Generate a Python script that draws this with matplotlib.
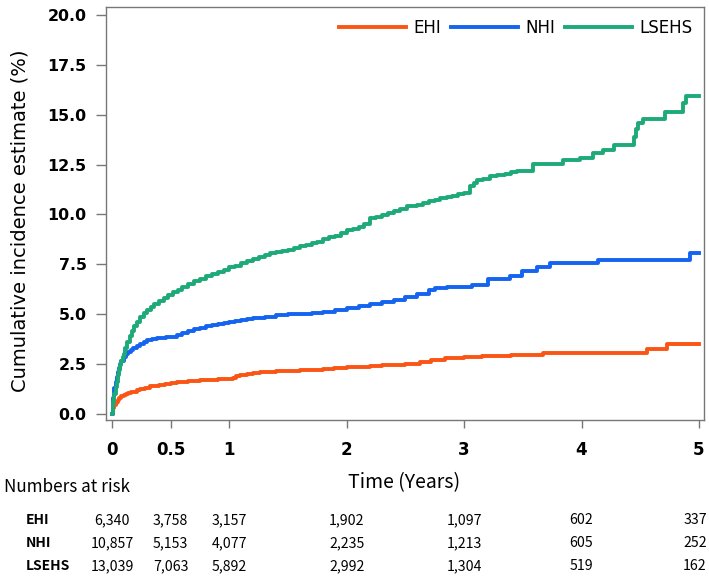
#!/usr/bin/env python3
"""
Cumulative incidence curves with numbers-at-risk table
"""
import matplotlib
matplotlib.use("Agg")
import matplotlib.pyplot as plt
import matplotlib.transforms as mtransforms

# Curve data (years, cumulative incidence %)
ehi_t = [0, 0.005, 0.01, 0.02, 0.03, 0.04, 0.05, 0.06, 0.08, 0.1, 0.12,
         0.14, 0.16, 0.18, 0.21, 0.24, 0.28, 0.32, 0.36, 0.4, 0.45, 0.5,
         0.55, 0.6, 0.65, 0.7, 0.75, 0.8, 0.9, 1.0, 1.03, 1.06, 1.09, 1.15,
         1.2, 1.26, 1.32, 1.4, 1.5, 1.6, 1.7, 1.8, 1.89, 2.0, 2.1, 2.2, 2.3,
         2.4, 2.5, 2.62, 2.72, 2.84, 3.0, 3.15, 3.4, 3.67, 4.56, 4.73, 5.0]
ehi_v = [0, 0.15, 0.3, 0.45, 0.55, 0.62, 0.7, 0.78, 0.88, 0.95, 1.0,
         1.05, 1.1, 1.12, 1.18, 1.25, 1.32, 1.38, 1.42, 1.47, 1.52, 1.56,
         1.6, 1.62, 1.65, 1.67, 1.7, 1.72, 1.74, 1.76, 1.82, 1.9, 1.97, 2.02,
         2.05, 2.1, 2.12, 2.15, 2.18, 2.2, 2.23, 2.26, 2.29, 2.35, 2.38, 2.4,
         2.45, 2.48, 2.52, 2.62, 2.7, 2.79, 2.84, 2.91, 2.98, 3.04, 3.24,
         3.5, 3.5]

nhi_t = [0, 0.005, 0.01, 0.015, 0.02, 0.03, 0.04, 0.05, 0.06, 0.07, 0.08,
         0.1, 0.12, 0.14, 0.16, 0.18, 0.21, 0.24, 0.27, 0.3, 0.34, 0.38,
         0.42, 0.46, 0.5, 0.55, 0.6, 0.65, 0.7, 0.75, 0.8, 0.85, 0.9, 0.95,
         1.0, 1.05, 1.1, 1.15, 1.2, 1.3, 1.4, 1.5, 1.6, 1.7, 1.8, 1.9, 2.0,
         2.1, 2.2, 2.3, 2.4, 2.5, 2.6, 2.7, 2.75, 2.85, 3.07, 3.2, 3.39,
         3.49, 3.62, 3.73, 4.14, 4.92, 5.0]
nhi_v = [0, 0.4, 0.8, 1.1, 1.3, 1.6, 1.85, 2.1, 2.3, 2.5, 2.65,
         2.85, 3.0, 3.1, 3.2, 3.3, 3.4, 3.5, 3.6, 3.7, 3.75, 3.8,
         3.82, 3.85, 3.87, 3.95, 4.05, 4.15, 4.25, 4.33, 4.4, 4.45, 4.5,
         4.55, 4.6, 4.65, 4.7, 4.75, 4.8, 4.88, 4.95, 5.0, 5.03, 5.07, 5.12,
         5.2, 5.3, 5.42, 5.5, 5.6, 5.7, 5.85, 6.0, 6.2, 6.3, 6.35, 6.47,
         6.75, 6.92, 7.17, 7.38, 7.55, 7.72, 8.05, 8.05]

lsehs_t = [0, 0.005, 0.01, 0.015, 0.02, 0.03, 0.04, 0.05, 0.06, 0.07, 0.08,
           0.09, 0.1, 0.115, 0.13, 0.15, 0.17, 0.19, 0.21, 0.24, 0.27, 0.3,
           0.33, 0.36, 0.4, 0.44, 0.48, 0.52, 0.56, 0.6, 0.65, 0.7, 0.75,
           0.8, 0.85, 0.9, 0.95, 1.0, 1.05, 1.1, 1.15, 1.2, 1.25, 1.3, 1.35,
           1.4, 1.45, 1.5, 1.55, 1.6, 1.65, 1.7, 1.75, 1.8, 1.85, 1.9, 1.95,
           2.0, 2.05, 2.1, 2.15, 2.2, 2.25, 2.3, 2.35, 2.4, 2.45, 2.51, 2.6,
           2.65, 2.7, 2.75, 2.79, 2.85, 2.9, 2.95, 3.0, 3.05, 3.08, 3.11,
           3.16, 3.22, 3.28, 3.35, 3.4, 3.45, 3.59, 3.84, 3.99, 4.1, 4.18,
           4.28, 4.45, 4.46, 4.48, 4.52, 4.71, 4.86, 4.89, 5.0]
lsehs_v = [0, 0.3, 0.6, 0.8, 1.0, 1.35, 1.6, 1.95, 2.2, 2.45, 2.65,
           2.85, 3.0, 3.3, 3.6, 3.9, 4.15, 4.4, 4.6, 4.85, 5.05, 5.2,
           5.35, 5.5, 5.65, 5.8, 5.95, 6.1, 6.2, 6.35, 6.5, 6.65, 6.78,
           6.9, 7.0, 7.1, 7.22, 7.35, 7.42, 7.55, 7.65, 7.75, 7.85, 7.95,
           8.05, 8.1, 8.15, 8.22, 8.3, 8.4, 8.48, 8.55, 8.62, 8.75, 8.85,
           8.92, 9.05, 9.2, 9.25, 9.35, 9.5, 9.8, 9.85, 9.95, 10.1, 10.2,
           10.3, 10.43, 10.5, 10.6, 10.7, 10.75, 10.83, 10.9, 10.95, 11.05,
           11.1, 11.45, 11.6, 11.73, 11.8, 11.93, 12.0, 12.05, 12.12, 12.2,
           12.52, 12.72, 12.85, 13.07, 13.23, 13.47, 13.9, 14.3, 14.57,
           14.77, 15.14, 15.57, 15.95, 15.95]

# Numbers at risk table
risk_times = [0, 0.5, 1, 2, 3, 4, 5]
risk_groups = ["EHI", "NHI", "LSEHS"]
risk_ehi = ["6,340", "3,758", "3,157", "1,902", "1,097", "602", "337"]
risk_nhi = ["10,857", "5,153", "4,077", "2,235", "1,213", "605", "252"]
risk_lsehs = ["13,039", "7,063", "5,892", "2,992", "1,304", "519", "162"]

xticks = [0, 0.5, 1, 2, 3, 4, 5]
xtick_labels = ["0", "0.5", "1", "2", "3", "4", "5"]
yticks = [0, 2.5, 5, 7.5, 10, 12.5, 15, 17.5, 20]

COLORS = {"EHI": "#fa5514", "NHI": "#1464f0", "LSEHS": "#1daa78"}
CJK = ["Noto Sans CJK JP", "DejaVu Sans"]


def main():
    plt.rcParams['font.family'] = ["DejaVu Sans"]
    fig = plt.figure(figsize=(7.09, 5.76), dpi=100)
    ax = fig.add_axes([106 / 709, 1 - 420 / 576, 598 / 709, 413 / 576])

    ax.plot(ehi_t, ehi_v, drawstyle="steps-post", color=COLORS["EHI"],
            lw=2.8, label="EHI")
    ax.plot(nhi_t, nhi_v, drawstyle="steps-post", color=COLORS["NHI"],
            lw=2.8, label="NHI")
    ax.plot(lsehs_t, lsehs_v, drawstyle="steps-post", color=COLORS["LSEHS"],
            lw=2.8, label="LSEHS")

    ax.set_xlim(-0.051, 5.043)
    ax.set_ylim(-0.3, 20.4)
    ax.set_yticks(yticks)
    ax.set_yticklabels(["%.1f" % y for y in yticks], fontweight="bold",
                       fontsize=11.4)
    ax.set_xticks(xticks)
    ax.set_xticklabels(xtick_labels, fontweight="bold", fontsize=12)
    ax.tick_params(axis="y", length=7, width=1, color="#777777", pad=7)
    ax.tick_params(axis="x", length=6, width=1, color="#777777", pad=9)
    for sp in ax.spines.values():
        sp.set_color("#777777")
        sp.set_linewidth(1)

    ax.legend(loc="upper right", ncol=3, frameon=False, fontsize=12,
              handlelength=4.0, handletextpad=0.45, columnspacing=0.6,
              borderaxespad=0.3, bbox_to_anchor=(1.0, 1.0))

    fig.text(20 / 709, 1 - 221 / 576, "Cumulative incidence estimate (%)",
             rotation=90, ha="center", va="center", fontsize=14)

    # Numbers at risk
    trans = mtransforms.blended_transform_factory(ax.transData,
                                                  fig.transFigure)
    # last column sits at the figure edge, nudge it in a few pixels
    trans_last = mtransforms.offset_copy(trans, fig=fig, x=-4, units="dots")
    fig.text(4 / 709, 1 - 487 / 576, "Numbers at risk", ha="left",
             va="center", fontsize=12.3, family=CJK)
    fig.text(404 / 709, 1 - 483 / 576, "Time (Years)", ha="center",
             va="center", fontsize=14, family=CJK)
    row_y = [520, 543, 566]
    rows = [risk_ehi, risk_nhi, risk_lsehs]
    for name, vals, py in zip(risk_groups, rows, row_y):
        fig.text(26 / 709, 1 - py / 576, name, ha="left", va="center",
                 fontsize=10, fontweight="bold", family=CJK)
        for t, v in zip(risk_times, vals):
            tr = trans_last if t == risk_times[-1] else trans
            ax.text(t, 1 - py / 576, v, transform=tr, ha="center",
                    va="center", fontsize=10.2, family=CJK)

    fig.savefig("out.png", dpi=100)


if __name__ == "__main__":
    main()
